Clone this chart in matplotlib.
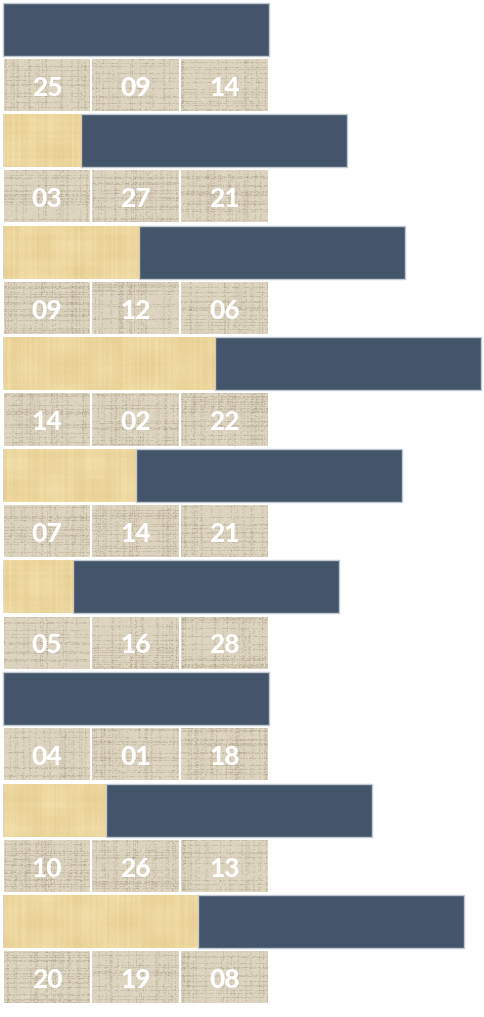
import numpy as np
import matplotlib.pyplot as plt

# start offset (papyrus part) and duration (dark part) of each bar, in days
start = [0, 8.8, 15.4, 23.9, 15.0, 7.9, 0, 11.6, 22.0]
duration = [30, 30, 30, 30, 30, 30, 30, 30, 30]

# numbers shown in the three cells under each bar
cells = [[25, 9, 14], [3, 27, 21], [9, 12, 6], [14, 2, 22], [7, 14, 21],
         [5, 16, 28], [4, 1, 18], [10, 26, 13], [20, 19, 8]]
cell_left = [0, 10, 20]
cell_width = [10, 10, 10]

dark = '#44546a'


def hash01(a):
    v = np.sin(a * 12.9898 + 78.233) * 43758.5453
    return v - np.floor(v)


def linen(h, w, k):
    y = np.arange(h)[:, None]
    x = np.arange(w)[None, :]
    cols = hash01(x * 1.31 + k * 31.7)
    rows = hash01(y * 1.77 + k * 17.3)
    grain = hash01(x * 3.1 + y * 7.7 + k * 5.3)
    v = 0.80 + 0.12 * grain
    v = v - 0.22 * (cols > 0.74) * (hash01(x * 0.9 + y * 2.3 + k) > 0.4)
    v = v - 0.22 * (rows > 0.74) * (hash01(x * 2.1 + y * 0.7 + k) > 0.4)
    v = np.clip(v, 0, 1)[..., None]
    lo = np.array([140, 128, 105]) / 255
    hi = np.array([234, 226, 205]) / 255
    return lo + (hi - lo) * v


def papyrus(h, w, k):
    y = np.arange(h)[:, None]
    x = np.arange(w)[None, :]
    cols = hash01(np.floor(x / 2) * 1.13 + k * 9.1)
    rows = hash01(np.floor(y / 3) * 2.3 + k * 4.7)
    grain = hash01(x * 3.7 + y * 5.9 + k * 2.1)
    blot = 0.5 + 0.5 * np.sin(x / 13.0 + k) * np.cos(y / 9.0 + 2 * k)
    v = 0.55 + 0.18 * (cols - 0.5) + 0.08 * (rows - 0.5) + 0.10 * grain + 0.15 * blot
    v = np.clip(v, 0, 1)[..., None]
    lo = np.array([214, 182, 112]) / 255
    hi = np.array([248, 230, 180]) / 255
    return lo + (hi - lo) * v


def fill_texture(ax, patch, tex_func, k):
    x0, y0 = patch.get_x(), patch.get_y()
    w, h = patch.get_width(), patch.get_height()
    if w <= 0:
        return
    img = tex_func(int(h * 56) + 1, int(w * 9) + 1, k)
    im = ax.imshow(img, extent=[x0, x0 + w, y0 + h, y0], aspect='auto',
                   interpolation='bilinear', zorder=2)
    im.set_clip_path(patch)


fig = plt.figure(figsize=(4.84, 10.17), dpi=100)
ax = fig.add_axes([0, 0, 1, 1])

n = len(start)
bar_y = [2 * i for i in range(n)]
cell_y = [2 * i + 1 for i in range(n)]

# papyrus offsets
pap = ax.barh(bar_y, start, height=0.95, color='#e8cf95', zorder=1)
for i, p in enumerate(pap):
    fill_texture(ax, p, papyrus, i)

# dark bars
ax.barh(bar_y, duration, left=start, height=0.95, color=dark,
        edgecolor='#c3c9d3', linewidth=1, zorder=4)

# linen cells with numbers
for i in range(n):
    cb = ax.barh([cell_y[i]] * 3, cell_width, left=cell_left, height=0.97,
                 facecolor='none', edgecolor='white', linewidth=1.5, zorder=3)
    for j, p in enumerate(cb):
        clip = plt.Rectangle((p.get_x(), p.get_y()), p.get_width(), p.get_height(),
                             transform=ax.transData, visible=False)
        ax.add_patch(clip)
        fill_texture(ax, clip, linen, i * 3 + j)
        ax.text(cell_left[j] + cell_width[j] / 2, cell_y[i] + 0.05, '%02d' % cells[i][j],
                ha='center', va='center', color='white', fontsize=19,
                fontweight='black', family='Lato', zorder=5)

ax.set_xlim(-0.3, 54.25)
ax.set_ylim(17.71, -0.52)
ax.axis('off')

fig.savefig('out.png', dpi=100)
